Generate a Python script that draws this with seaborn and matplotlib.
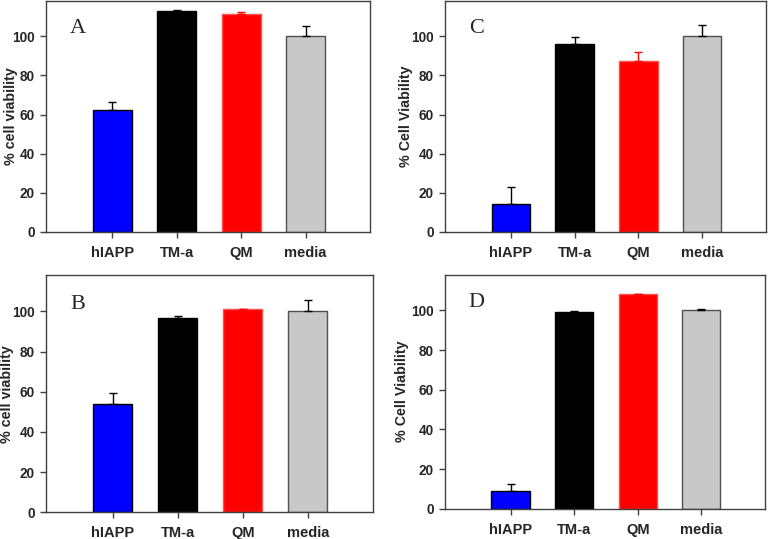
import numpy as np
import matplotlib.pyplot as plt
import seaborn as sns

categories = ['hIAPP', 'TM-a', 'QM', 'media']
bar_colors = ['#0000FF', '#000000', '#FF0000', '#C8C8C8']
edge_colors = ['#000000', '#000000', '#FF5050', '#505050']
err_colors = ['#000000', '#000000', '#FF0000', '#000000']

vals_a = [62.3, 112.8, 111.6, 100.0]
err_a = [4.3, 0.8, 1.0, 5.5]
vals_b = [54.1, 96.9, 101.0, 100.0]
err_b = [5.3, 0.8, 0.4, 5.6]
vals_c = [14.2, 96.0, 87.2, 100.0]
err_c = [8.6, 3.8, 4.7, 5.6]
vals_d = [8.8, 99.1, 108.2, 100.0]
err_d = [3.5, 0.5, 0.3, 0.6]

yticks = [0, 20, 40, 60, 80, 100]

sns.set_style('ticks')
plt.rcParams['font.family'] = ['Liberation Sans', 'DejaVu Sans']

fig = plt.figure(figsize=(7.71, 5.39), dpi=100)

# letter, values, errors, y label, axes rect, y label x position
panels = [
    ('A', vals_a, err_a, '% cell viability', [0.0597, 0.5696, 0.4203, 0.4284], -0.085),
    ('C', vals_c, err_c, '% Cell Viability', [0.5772, 0.5696, 0.4163, 0.4284], -0.100),
    ('B', vals_b, err_b, '% cell viability', [0.0597, 0.0495, 0.4237, 0.4397], -0.097),
    ('D', vals_d, err_d, '% Cell Viability', [0.5772, 0.0562, 0.4150, 0.4342], -0.114),
]

for letter, vals, errs, ylab, rect, lab_x in panels:
    ax = fig.add_axes(rect)
    sns.barplot(x=categories, y=vals, hue=categories, palette=bar_colors,
                legend=False, width=0.6, saturation=1, ax=ax, linewidth=1.0)
    for patch, ec in zip(ax.patches, edge_colors):
        patch.set_edgecolor(ec)
    for i in range(len(categories)):
        ax.errorbar(i, vals[i], yerr=[[0], [errs[i]]], fmt='none',
                    ecolor=err_colors[i], elinewidth=1.0, capsize=3,
                    capthick=1.0, zorder=1)
    ax.set_xlim(-1.03, 4.0)
    ax.set_ylim(0, 118)
    ax.set_yticks(yticks)
    for s in ax.spines.values():
        s.set_visible(True)
        s.set_color('#404040')
        s.set_linewidth(1.0)
    ax.tick_params(axis='both', direction='out', length=4, width=1,
                   color='#404040')
    ax.tick_params(axis='y', labelsize=9.8, pad=4)
    ax.tick_params(axis='x', labelsize=10.5, pad=6)
    for lbl in ax.get_xticklabels() + ax.get_yticklabels():
        lbl.set_fontweight('bold')
    ax.set_ylabel(ylab, fontsize=10.3, fontweight='bold')
    ax.yaxis.set_label_coords(lab_x, 0.5)
    ax.text(0.074, 0.86, letter, transform=ax.transAxes, fontsize=16,
            family='Liberation Serif', va='baseline', ha='left')

fig.savefig('out.png', dpi=100)
